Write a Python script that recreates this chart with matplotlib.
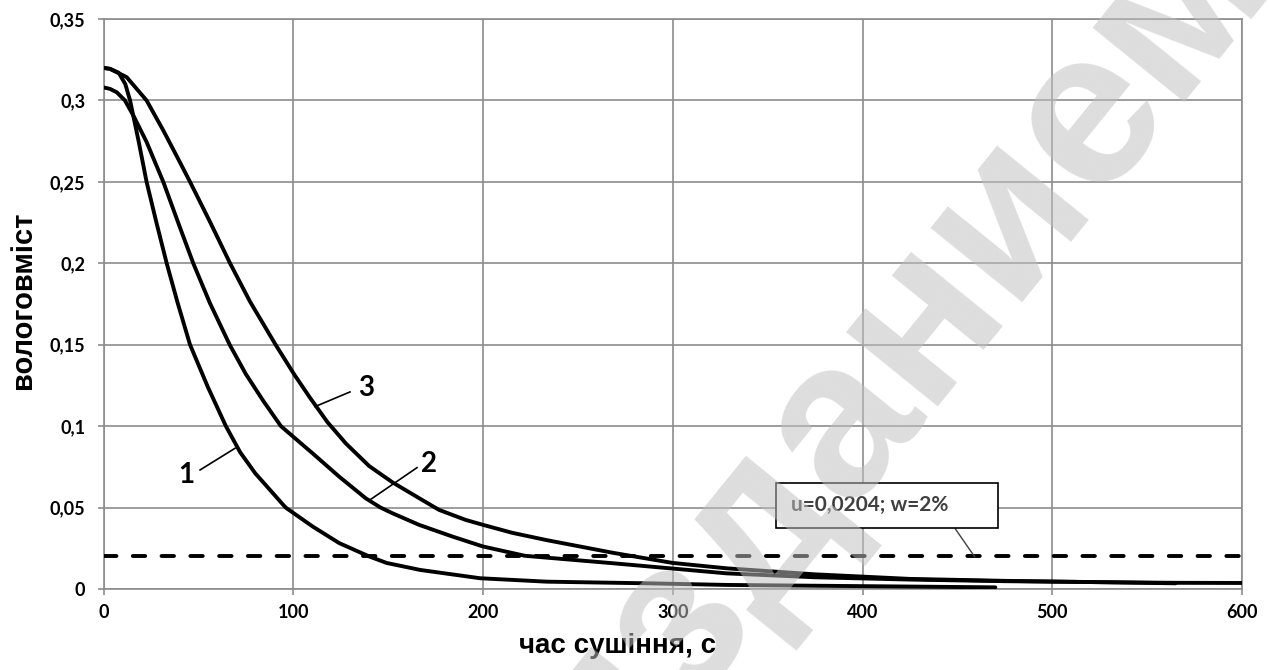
import matplotlib
matplotlib.use("Agg")
from matplotlib import pyplot as plt
from matplotlib.patches import Rectangle

plt.rcParams['font.family'] = ['Lato', 'DejaVu Sans']

# крива 1
t1 = [0, 3.4, 8, 11.5, 14.0, 18.5, 22.7, 28, 33.3, 39, 45.6, 55, 64.5, 72, 80, 96,
      110.2, 124.2, 140, 149.2, 166.9, 198.5, 233.6, 286.3, 328.4, 375, 425, 470]
u1 = [0.320, 0.3194, 0.317, 0.310, 0.300, 0.275, 0.250, 0.2245, 0.200, 0.176, 0.150,
      0.124, 0.100, 0.084, 0.071, 0.050, 0.0384, 0.0282, 0.0200, 0.0160, 0.0117,
      0.0066, 0.0045, 0.0035, 0.0025, 0.002, 0.0015, 0.001]
# крива 2
t2 = [0, 3.4, 7, 11.3, 15.7, 22.7, 31.5, 39.5, 47.3, 56.1, 66.5, 75, 84.2, 93.5,
      110.2, 124.2, 138.2, 146, 152.3, 166.3, 183.9, 200, 222, 268.6, 328.4, 375,
      425, 475, 525, 565, 600]
u2 = [0.308, 0.3071, 0.305, 0.300, 0.2908, 0.2745, 0.250, 0.2245, 0.200, 0.1755,
      0.150, 0.132, 0.1155, 0.100, 0.0833, 0.069, 0.0557, 0.050, 0.0465, 0.0394,
      0.0322, 0.0261, 0.0204, 0.0158, 0.0096, 0.0072, 0.0058, 0.0048, 0.0042, 0.0038,
      0.0037]
# крива 3
t3 = [0, 3.4, 12.2, 22.7, 31.5, 38.5, 45.6, 56.1, 66.7, 77.2, 90.7, 100.6, 108.8,
      118, 127.7, 140, 152.3, 166.3, 176.8, 190.9, 200, 215.4, 233.6, 268.6, 300,
      328.4, 375, 425, 475, 525, 565]
u3 = [0.320, 0.3194, 0.3143, 0.300, 0.2816, 0.266, 0.250, 0.2255, 0.200, 0.1765,
      0.150, 0.1316, 0.1175, 0.1025, 0.0894, 0.0755, 0.0655, 0.0558, 0.0486, 0.0424,
      0.0394, 0.0345, 0.030, 0.0222, 0.016, 0.0127, 0.009, 0.0062, 0.005, 0.0042,
      0.0035]

u_crit = 0.0204
xticks = [0, 100, 200, 300, 400, 500, 600]
yticks = [0, 0.05, 0.1, 0.15, 0.2, 0.25, 0.3, 0.35]
ylabels = ['0', '0,05', '0,1', '0,15', '0,2', '0,25', '0,3', '0,35']

grid_c = '#8c8c8c'

fig = plt.figure(figsize=(12.69, 6.70), dpi=100)
ax = fig.add_axes([103.5 / 1269, 81 / 670, (1242 - 103.5) / 1269, 570 / 670])

for t, u in [(t1, u1), (t2, u2), (t3, u3)]:
    ax.plot(t, u, color='black', lw=2.8, solid_capstyle='round',
            solid_joinstyle='round', zorder=3)

ax.axhline(u_crit, color='black', lw=2.8, dashes=(3.2, 4.2), dash_capstyle='round', zorder=3)

ax.set_xlim(0, 600)
ax.set_ylim(0, 0.35)
ax.set_xticks(xticks)
ax.set_xticklabels([str(v) for v in xticks])
ax.set_yticks(yticks)
ax.set_yticklabels(ylabels)
ax.grid(True, color=grid_c, lw=1.2, zorder=0)
for s in ax.spines.values():
    s.set_color(grid_c)
    s.set_linewidth(1.2)
ax.tick_params(direction='out', length=4, width=1.2, color=grid_c,
               labelsize=13)
ax.tick_params(axis='x', pad=7)
ax.tick_params(axis='y', pad=9)
for lab in ax.get_xticklabels() + ax.get_yticklabels():
    lab.set_fontweight('bold')

# підписи кривих
lbl_kw = dict(fontsize=20, fontweight='bold', ha='center', va='center')
ax.text(43.8, 0.070, '1', **lbl_kw)
ax.plot([50.9, 69.3], [0.0731, 0.0864], color='black', lw=1.2)
ax.text(138.3, 0.1234, '3', **lbl_kw)
ax.plot([129.9, 111.5], [0.121, 0.112], color='black', lw=1.2)
ax.text(171.5, 0.0765, '2', **lbl_kw)
ax.plot([165.2, 140.4], [0.0745, 0.0547], color='black', lw=1.2)

# виноска
ax.add_patch(Rectangle((354.4, 0.0375), 117.0, 0.0273, fc='white', ec='black',
                       lw=1.2, zorder=5))
ax.text(362.3, 0.0513, 'u=0,0204; w=2%', fontsize=15, fontweight='bold',
        color='#404040', ha='left', va='center', zorder=6)
ax.plot([448.7, 459.1], [0.0373, 0.0198], color='#404040', lw=1.0, zorder=4)

narrow = ['Liberation Sans Narrow', 'Liberation Sans', 'DejaVu Sans']
fig.text(23 / 1269, 0.552, 'вологовміст', rotation=90, fontsize=21,
         fontweight='bold', family=narrow, ha='center', va='center')
fig.text(618 / 1269, 17 / 670, 'час сушіння, с', fontsize=20,
         fontweight='bold', family=narrow, ha='center', va='baseline')

# водяний знак
fig.text(892 / 1269, 1 - 352 / 670, 'изданием', rotation=51, fontsize=160,
         fontweight='bold', family=narrow, color='#c0c0c0', alpha=0.53,
         ha='center', va='center', zorder=10)

fig.savefig('out.png', dpi=100)
